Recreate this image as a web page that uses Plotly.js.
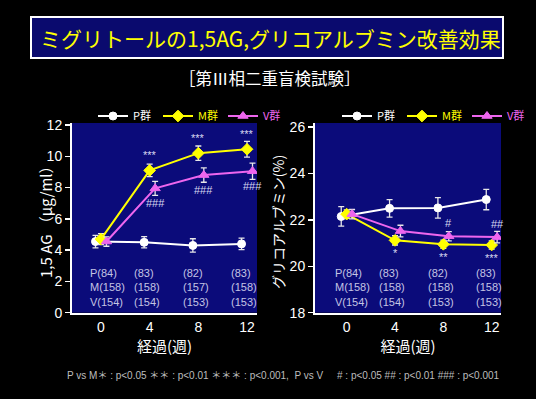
<!DOCTYPE html>
<html><head><meta charset="utf-8">
<script src="https://cdn.plot.ly/plotly-3.0.1.min.js"></script>
<style>html,body{margin:0;padding:0;background:#000;overflow:hidden;width:536px;height:399px;}#chart{width:536px;height:399px;}</style>
</head><body><div id="chart"></div><script>
// ---- data ----
const weeks = [0, 4, 8, 12];
const weekLabels = ['0', '4', '8', '12'];
const groupNames = ['P群', 'M群', 'V群'];
// 1,5AG (μg/ml)
const ag_P = [4.55, 4.5, 4.3, 4.4];
const ag_P_err = [0.4, 0.36, 0.43, 0.37];
const ag_M = [4.7, 9.1, 10.2, 10.45];
const ag_M_err = [0.35, 0.4, 0.46, 0.5];
const ag_V = [4.55, 7.95, 8.8, 9.05];
const ag_V_err = [0.3, 0.45, 0.46, 0.52];
const ag_sigM = ['', '***', '***', '***'];
const ag_sigV = ['', '###', '###', '###'];
// グリコアルブミン (%)
const ga_P = [22.15, 22.5, 22.52, 22.88];
const ga_P_err = [0.42, 0.38, 0.44, 0.44];
const ga_M = [22.25, 21.12, 20.95, 20.92];
const ga_M_err = [0.18, 0.2, 0.18, 0.18];
const ga_V = [22.25, 21.52, 21.3, 21.26];
const ga_V_err = [0.2, 0.25, 0.2, 0.25];
const ga_sigM = ['', '*', '**', '***'];
const ga_sigV = ['', '', '#', '##'];
// 症例数
const n_P = ['P(84)', '(83)', '(82)', '(83)'];
const n_M_ag = ['M(158)', '(158)', '(157)', '(158)'];
const n_V_ag = ['V(154)', '(154)', '(153)', '(153)'];
const n_M_ga = ['M(158)', '(158)', '(158)', '(158)'];
const n_V_ga = ['V(154)', '(154)', '(153)', '(153)'];

// ---- styles ----
const W = 536, H = 399;
const FONT = 'Liberation Sans, Arial, Noto Sans CJK JP, sans-serif';
const JFONT = 'Noto Sans CJK JP, Liberation Sans, sans-serif';
const NAVY = '#0b0b7a';
const colP = '#ffffff', colM = '#ffff00', colV = '#ee66ee';
const offs = {P: -0.45, M: 0, V: 0.45};
const shiftX = (o) => weeks.map(w => w + o);
const px = v => v / W, py = v => 1 - v / H;

function series(name, color, symbol, size, y, err, o, xa, ya, leg) {
  return {
    type: 'scatter', mode: 'lines+markers',
    name: '<span style="color:' + color + '">' + name + '</span>',
    x: shiftX(o), y: y, xaxis: xa, yaxis: ya, legend: leg,
    line: {color: color, width: 2},
    marker: {color: color, symbol: symbol, size: size, line: {color: color, width: 1}},
    error_y: {type: 'data', array: err, visible: true, color: '#e8e8e8', thickness: 1.3, width: 3}
  };
}

const data = [
  series(groupNames[0], colP, 'circle', 8, ag_P, ag_P_err, offs.P, 'x', 'y', 'legend'),
  series(groupNames[1], colM, 'diamond', 9, ag_M, ag_M_err, offs.M, 'x', 'y', 'legend'),
  series(groupNames[2], colV, 'triangle-up', 9, ag_V, ag_V_err, offs.V, 'x', 'y', 'legend'),
  series(groupNames[0], colP, 'circle', 8, ga_P, ga_P_err, offs.P, 'x2', 'y2', 'legend2'),
  series(groupNames[1], colM, 'diamond', 9, ga_M, ga_M_err, offs.M, 'x2', 'y2', 'legend2'),
  series(groupNames[2], colV, 'triangle-up', 9, ga_V, ga_V_err, offs.V, 'x2', 'y2', 'legend2')
];

const ann = [];
// significance marks
function sig(marks, yv, o, shift, xa, ya) {
  marks.forEach((m, i) => {
    if (!m) return;
    ann.push({xref: xa, yref: ya, x: weeks[i] + o, y: yv[i], text: m, showarrow: false,
      xanchor: 'center', yanchor: 'middle',
      yshift: shift, font: {family: FONT, size: 11, color: '#d8d8f0'}});
  });
}
sig(ag_sigM, ag_M, offs.M, 15, 'x', 'y');
sig(ag_sigV, ag_V, offs.V, -15, 'x', 'y');
sig(ga_sigM, ga_M, offs.M, -13, 'x2', 'y2');
sig(ga_sigV, ga_V, offs.V, 13, 'x2', 'y2');

// n counts
function counts(rows, xa, ya, yv) {
  weeks.forEach((w, i) => {
    ann.push({xref: xa, yref: ya, x: w + (i === 0 ? -1.1 : -1.45), y: yv, xanchor: 'left', yanchor: 'middle',
      align: 'left', showarrow: false, text: rows.map(r => r[i]).join('<br>'),
      font: {family: FONT, size: 11, color: '#c4c4e4'}});
  });
}
counts([n_P, n_M_ag, n_V_ag], 'x', 'y', 1.64);
counts([n_P, n_M_ga, n_V_ga], 'x2', 'y2', 19.09);

function label(x, y, text, font, extra) {
  ann.push(Object.assign({xref: 'paper', yref: 'paper', x: px(x), y: py(y), text: text,
    xanchor: 'center', yanchor: 'middle', showarrow: false, font: font}, extra || {}));
}
// titles
label(270, 38, 'ミグリトールの1,5AG,グリコアルブミン改善効果', {family: JFONT, size: 21, color: '#ffff00'});
label(270, 78, '［第Ⅲ相二重盲検試験］', {family: JFONT, size: 16.5, color: '#ffffff'});
label(45, 218, '1,5 AG （μg/ml）', {family: JFONT, size: 15, color: '#ffffff'}, {textangle: -90});
label(278, 222, 'グリコアルブミン(%)', {family: JFONT, size: 14, color: '#ffffff'}, {textangle: -90});
label(283.5, 375,
  'P vs M＊ : p&lt;0.05 ＊＊ : p&lt;0.01 ＊＊＊ : p&lt;0.001,  P vs V     # : p&lt;0.05 ## : p&lt;0.01 ### : p&lt;0.001',
  {family: FONT, size: 10, color: '#bdbdbd'});

const axisX = (dom, rng) => ({
  domain: dom, range: rng, tickvals: weeks, ticktext: weekLabels, showgrid: false, zeroline: false,
  showline: true, linecolor: '#ffffff', linewidth: 2, ticks: '', fixedrange: true,
  tickfont: {family: FONT, size: 14, color: '#ffffff'},
  title: {text: '経過(週)', font: {family: JFONT, size: 15, color: '#ffffff'}, standoff: 6}
});
const axisY = (rng, dtick) => ({
  domain: [1 - 312.7 / H, 1 - 123 / H], range: rng, dtick: dtick, showgrid: false, zeroline: false,
  showline: true, linecolor: '#ffffff', linewidth: 2, ticks: 'outside', ticklen: 5, tickwidth: 1.5,
  tickcolor: '#ffffff', fixedrange: true,
  tickfont: {family: FONT, size: 14, color: '#ffffff'}
});
const legendStyle = (x) => ({orientation: 'h', x: px(x), xanchor: 'left', y: py(116), yanchor: 'middle',
  bgcolor: 'rgba(0,0,0,0)', font: {family: JFONT, size: 11, color: '#ffffff'}, itemwidth: 30,
  entrywidth: 20, entrywidthmode: 'pixels'});

const layout = {
  width: W, height: H, autosize: false, margin: {l: 0, r: 0, t: 0, b: 0, pad: 0},
  paper_bgcolor: '#000000', plot_bgcolor: NAVY, showlegend: true,
  xaxis: axisX([px(72), px(257)], [-2.38, 12.82]),
  yaxis: axisY([0, 12.13], 2),
  xaxis2: Object.assign(axisX([px(315), px(501)], [-2.62, 12.77]), {anchor: 'y2'}),
  yaxis2: Object.assign(axisY([18, 26.18], 2), {anchor: 'x2'}),
  legend: legendStyle(93),
  legend2: legendStyle(337),
  shapes: [
    {type: 'rect', xref: 'paper', yref: 'paper', x0: px(31), x1: px(503), y0: py(17), y1: py(58),
      fillcolor: '#0a0a6e', line: {color: '#ffffff', width: 2}, layer: 'below'}
  ],
  annotations: ann
};

Plotly.newPlot('chart', data, layout, {displayModeBar: false, staticPlot: true});
</script></body></html>
